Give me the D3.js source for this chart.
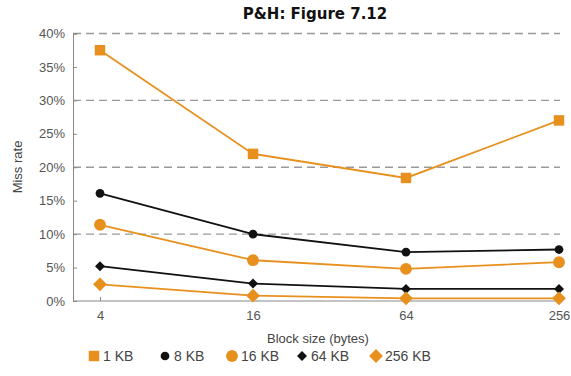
<!DOCTYPE html>
<html><head><meta charset="utf-8">
<script src="https://cdn.jsdelivr.net/npm/d3@7"></script>
<style>body{margin:0;background:#fff}</style>
</head><body>
<svg id="c" width="571" height="376"></svg>
<script>
const blockSizes = ["4", "16", "64", "256"];
const series1KB = [37.5, 22.0, 18.4, 27.0];
const series8KB = [16.1, 10.0, 7.3, 7.7];
const series16KB = [11.4, 6.1, 4.8, 5.8];
const series64KB = [5.2, 2.6, 1.8, 1.8];
const series256KB = [2.5, 0.8, 0.4, 0.4];
const seriesNames = ["1 KB", "8 KB", "16 KB", "64 KB", "256 KB"];
const yTicks = [0, 5, 10, 15, 20, 25, 30, 35, 40];
const gridTicks = [10, 20, 30, 40];

const orange = "#e8901e", black = "#111";
const series = [
  {name: seriesNames[0], values: series1KB, color: orange, sym: d3.symbolSquare, size: 110, rot: 0},
  {name: seriesNames[1], values: series8KB, color: black, sym: d3.symbolCircle, size: 60, rot: 0},
  {name: seriesNames[2], values: series16KB, color: orange, sym: d3.symbolCircle, size: 110, rot: 0},
  {name: seriesNames[3], values: series64KB, color: black, sym: d3.symbolSquare, size: 50, rot: 45},
  {name: seriesNames[4], values: series256KB, color: orange, sym: d3.symbolSquare, size: 95, rot: 45}
];

const svg = d3.select("#c");
const x = d3.scalePoint().domain(blockSizes).range([100, 559]);
const y = d3.scaleLinear().domain([0, 40]).range([301, 33.5]);

// grid
svg.append("g").selectAll("line").data(gridTicks).join("line")
  .attr("x1", 73).attr("x2", 560)
  .attr("y1", d => y(d)).attr("y2", d => y(d))
  .attr("stroke", "#999").attr("stroke-width", 1.3).attr("stroke-dasharray", "8,5");

// y axis
const yAxis = svg.append("g").attr("transform", "translate(73,0)")
  .call(d3.axisLeft(y).tickValues(yTicks).tickFormat(d => d + "%").tickSize(-4).tickPadding(8));
yAxis.select(".domain").attr("stroke", "#888");
yAxis.selectAll(".tick line").attr("stroke", "#888");
yAxis.selectAll("text").attr("fill", "#555").style("font-family", "Liberation Sans, Arial, sans-serif").style("font-size", "13px");

// x axis
const xAxis = svg.append("g").attr("transform", "translate(0,301)")
  .call(d3.axisBottom(x).tickSize(-4).tickPadding(10).tickSizeOuter(0));
xAxis.select(".domain").attr("d", "M73,0H560").attr("stroke", "#888");
xAxis.selectAll(".tick line").attr("stroke", "#888");
xAxis.selectAll("text").attr("fill", "#555").style("font-family", "Liberation Sans, Arial, sans-serif").style("font-size", "13px");

// lines
const line = d3.line().x((d, i) => x(blockSizes[i])).y(d => y(d));
series.forEach(s => {
  svg.append("path").attr("d", line(s.values)).attr("fill", "none")
    .attr("stroke", s.color).attr("stroke-width", 1.8);
  svg.append("g").selectAll("path").data(s.values).join("path")
    .attr("transform", (d, i) => `translate(${x(blockSizes[i])},${y(d)}) rotate(${s.rot})`)
    .attr("d", d3.symbol().type(s.sym).size(s.size)).attr("fill", s.color);
});

// title
svg.append("text").attr("x", 315).attr("y", 19).attr("text-anchor", "middle")
  .style("font-family", "DejaVu Sans, sans-serif").style("font-weight", "bold").style("font-size", "15px")
  .attr("fill", "#111").text("P&H: Figure 7.12");

// axis labels
svg.append("text").attr("transform", "translate(22,167) rotate(-90)").attr("text-anchor", "middle")
  .style("font-family", "Liberation Sans, Arial, sans-serif").style("font-size", "13px").attr("fill", "#444").text("Miss rate");
svg.append("text").attr("x", 318).attr("y", 343).attr("text-anchor", "middle")
  .style("font-family", "Liberation Sans, Arial, sans-serif").style("font-size", "13px").attr("fill", "#444").text("Block size (bytes)");

// legend
const legX = [94, 165, 232, 302, 376];
const lg = svg.append("g").selectAll("g").data(series).join("g")
  .attr("transform", (d, i) => `translate(${legX[i]},356)`);
lg.append("path").attr("d", d => d3.symbol().type(d.sym).size(d.size)())
  .attr("transform", d => `rotate(${d.rot})`).attr("fill", d => d.color);
lg.append("text").attr("x", 9).attr("y", 5).text(d => d.name)
  .style("font-family", "Liberation Sans, Arial, sans-serif").style("font-size", "14px").attr("fill", "#444");
</script>
</body></html>
